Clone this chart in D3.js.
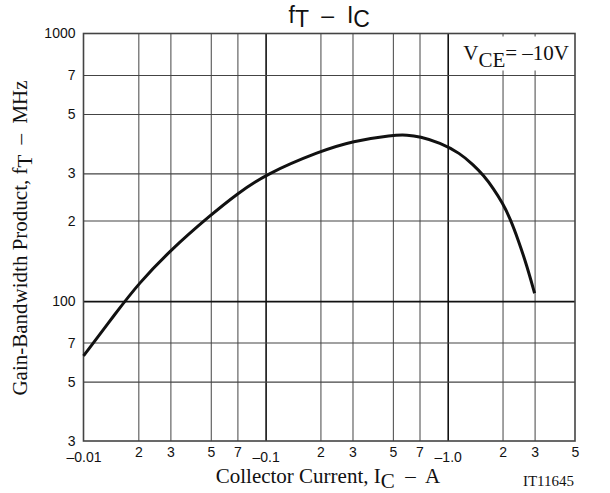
<!DOCTYPE html>
<html>
<head>
<meta charset="utf-8">
<script src="https://cdn.jsdelivr.net/npm/d3@7"></script>
<style>
  body { margin: 0; background: #fff; }
  svg { display: block; }
  text { white-space: pre; }
  .tick text { fill: #111; }
</style>
</head>
<body>
<svg id="chart" width="610" height="493"></svg>
<script>
// collector current (A, magnitude) and gain-bandwidth product (MHz)
var icValues = [0.01, 0.015, 0.02, 0.03, 0.05, 0.07, 0.1, 0.2, 0.3, 0.5, 0.6, 0.7, 0.907, 1.168, 1.382, 1.569, 1.78, 2.005, 2.198, 2.442, 2.716, 3.0];
var ftValues = [62.4, 90, 116, 155, 210, 252, 298, 364, 396, 418, 418, 412, 391, 357, 323, 296, 264, 232, 204, 169, 136, 107];

var xTicks = [0.01, 0.02, 0.03, 0.05, 0.07, 0.1, 0.2, 0.3, 0.5, 0.7, 1, 2, 3, 5];
var xTickLabels = ["\u20130.01", "2", "3", "5", "7", "\u20130.1", "2", "3", "5", "7", "\u20131.0", "2", "3", "5"];
var yTicks = [30, 50, 70, 100, 200, 300, 500, 700, 1000];
var yTickLabels = ["3", "5", "7", "100", "2", "3", "5", "7", "1000"];
var xGrid = [0.02, 0.03, 0.05, 0.07, 0.1, 0.2, 0.3, 0.5, 0.7, 1, 2, 3];
var yGrid = [50, 70, 100, 200, 300, 500, 700];
var majorX = [0.1, 1], majorY = [100];

var margin = {top: 33.5, left: 83.5, right: 35, bottom: 52},
    width = 610, height = 493,
    chartWidth = width - margin.left - margin.right,
    chartHeight = height - margin.top - margin.bottom;

var svg = d3.select("#chart");
var sans = "'Liberation Sans', Arial, sans-serif",
    serif = "'Liberation Serif', 'Times New Roman', serif";

var xScale = d3.scaleLog().domain([0.01, 5]).range([0, chartWidth]);
var yScale = d3.scaleLog().domain([30, 1000]).range([chartHeight, 0]);

var g = svg.append("g")
    .attr("transform", "translate(" + margin.left + "," + margin.top + ")");

// grid
g.append("g")
    .attr("class", "xgrid")
    .attr("transform", "translate(0," + chartHeight + ")")
    .call(d3.axisBottom(xScale).tickValues(xGrid).tickSize(-chartHeight).tickFormat(""))
    .call(function(s){ s.select(".domain").remove(); })
    .selectAll("line")
    .style("stroke", function(d){ return majorX.indexOf(d) >= 0 ? "#111" : "#555"; })
    .style("stroke-width", function(d){ return majorX.indexOf(d) >= 0 ? 1.6 : 1.1; });

g.append("g")
    .attr("class", "ygrid")
    .call(d3.axisLeft(yScale).tickValues(yGrid).tickSize(-chartWidth).tickFormat(""))
    .call(function(s){ s.select(".domain").remove(); })
    .selectAll("line")
    .style("stroke", function(d){ return majorY.indexOf(d) >= 0 ? "#111" : "#444"; })
    .style("stroke-width", function(d){ return majorY.indexOf(d) >= 0 ? 1.6 : 1.1; });

// frame
g.append("rect")
    .attr("width", chartWidth)
    .attr("height", chartHeight)
    .style("fill", "none")
    .style("stroke", "#444")
    .style("stroke-width", 1.6);

// tick labels
var xAxisG = g.append("g")
    .attr("transform", "translate(0," + chartHeight + ")")
    .call(d3.axisBottom(xScale).tickValues(xTicks).tickSize(0).tickPadding(6)
        .tickFormat(function(d, i){ return xTickLabels[i]; }));
xAxisG.select(".domain").remove();
xAxisG.selectAll("text")
    .style("font-family", sans)
    .style("font-size", "14px")
    .attr("dy", function(d, i){ return xTickLabels[i].length > 1 ? "1.05em" : "0.71em"; });

var yAxisG = g.append("g")
    .call(d3.axisLeft(yScale).tickValues(yTicks).tickSize(0).tickPadding(8)
        .tickFormat(function(d, i){ return yTickLabels[i]; }));
yAxisG.select(".domain").remove();
yAxisG.selectAll("text")
    .style("font-family", sans)
    .style("font-size", "14px");

// curve
var line = d3.line()
    .x(function(d){ return xScale(d[0]); })
    .y(function(d){ return yScale(d[1]); })
    .curve(d3.curveBasis);

g.append("path")
    .datum(d3.zip(icValues, ftValues))
    .attr("d", line)
    .style("fill", "none")
    .style("stroke", "#111")
    .style("stroke-width", 3);

// condition label
g.append("rect")
    .attr("x", chartWidth - 118)
    .attr("y", 3)
    .attr("width", 115)
    .attr("height", 34)
    .style("fill", "#fff");

var cond = g.append("text")
    .attr("x", chartWidth - 6)
    .attr("y", 26)
    .attr("text-anchor", "end")
    .style("font-family", serif)
    .style("font-size", "21px")
    .style("fill", "#111");
cond.append("tspan").text("V");
cond.append("tspan").attr("dy", 7).text("CE");
cond.append("tspan").attr("dy", -7).text("= \u201310V");

// title
var title = svg.append("text")
    .attr("x", margin.left + chartWidth / 2)
    .attr("y", 23)
    .attr("text-anchor", "middle")
    .style("font-family", sans)
    .style("font-size", "23px")
    .style("fill", "#111");
title.append("tspan").text("f");
title.append("tspan").attr("dy", 4).text("T");
title.append("tspan").attr("dy", -4).text("  \u2013  I");
title.append("tspan").attr("dy", 4).text("C");

// axis titles
var yTitle = svg.append("text")
    .attr("transform", "translate(27," + 238 + ") rotate(-90)")
    .attr("text-anchor", "middle")
    .style("font-family", serif)
    .style("font-size", "21px")
    .style("fill", "#111");
yTitle.append("tspan").text("Gain-Bandwidth Product, f");
yTitle.append("tspan").attr("dy", 5).text("T");
yTitle.append("tspan").attr("dy", -5).text("  \u2013  MHz");

var xTitle = svg.append("text")
    .attr("x", 328)
    .attr("y", 483)
    .attr("text-anchor", "middle")
    .style("font-family", serif)
    .style("font-size", "21px")
    .style("fill", "#111");
xTitle.append("tspan").text("Collector Current, I");
xTitle.append("tspan").attr("dy", 5).text("C");
xTitle.append("tspan").attr("dy", -5).text("  \u2013  A");

svg.append("text")
    .attr("x", 574)
    .attr("y", 486)
    .attr("text-anchor", "end")
    .style("font-family", serif)
    .style("font-size", "15px")
    .style("fill", "#111")
    .text("IT11645");
</script>
</body>
</html>
